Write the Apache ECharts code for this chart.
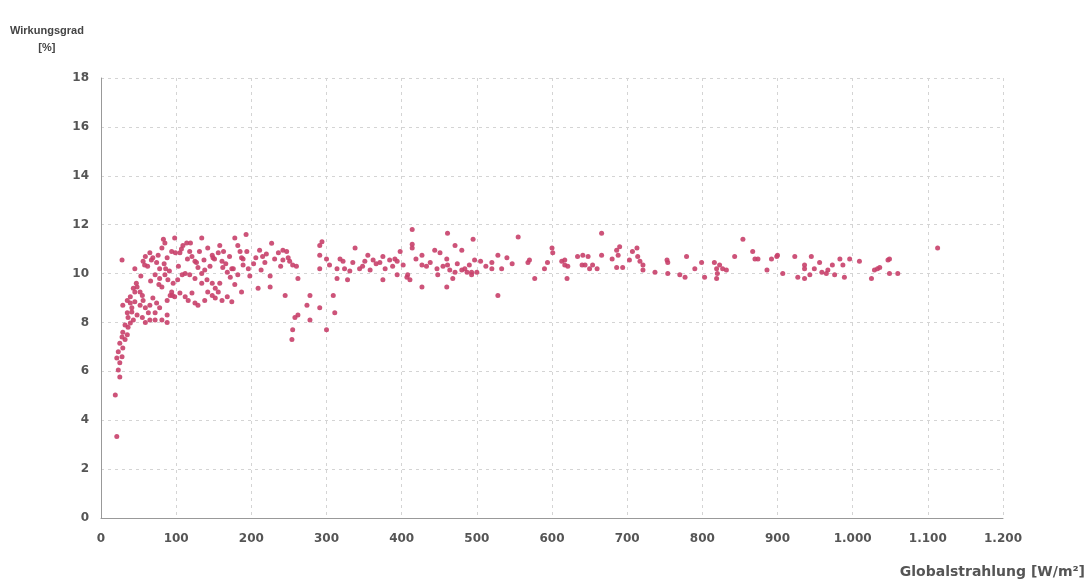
<!DOCTYPE html>
<html>
<head>
<meta charset="utf-8">
<script src="https://cdn.jsdelivr.net/npm/echarts@6/dist/echarts.min.js"></script>
<style>html,body{margin:0;padding:0;background:#fff;}#c{width:1091px;height:586px;}</style>
</head>
<body>
<div id="c"></div>
<script>
var xTicks = [0,100,200,300,400,500,600,700,800,900,1000,1100,1200];
var yTicks = [0,2,4,6,8,10,12,14,16,18];
var xTitle = 'Globalstrahlung [W/m²]';
var yTitle = 'Wirkungsgrad\n[%]';

// Globalstrahlung [W/m²]
var irradiance = [
21,19,25,23,25,21,28,23,29,25,32,28,35,29,36,32,39,36,43,35,41,48,55,59,65,72,81,88,88,29,35,39,45,43,48,52,45,52,56,59,65,69,74,78,41,63,72,39,55,
28,45,56,59,65,69,74,78,81,85,83,88,94,98,105,109,114,118,121,125,134,
72,78,85,89,96,102,108,112,118,125,94,98,105,112,116,121,125,81,88,92,
129,134,138,142,148,149,156,158,161,162,168,172,174,134,141,148,152,156,158,
129,138,142,148,152,161,168,174,178,182,185,187,189,178,187,182,
227,194,189,196,198,209,225,225,215,220,211,242,247,242,251,255,260,262,245,278,274,291,262,258,278,255,254,300,311,309,294,291,291,291,300,314,314,322,324,328,338,344,348,355,362,371,378,375,375,391,394,398,394,407,
414,414,414,427,427,408,411,427,444,451,461,447,448,460,461,464,471,471,480,460,468,480,487,493,500,495,497,493,520,520,528,533,528,555,570,568,577,590,594,600,601,613,617,621,617,620,634,640,
666,641,648,644,654,660,650,666,680,686,688,690,686,694,703,707,713,714,717,721,721,737,753,754,754,770,777,779,790,799,803,816,819,820,819,823,827,832,843,854,867,870,874,886,892,899,
900,907,923,927,936,943,936,936,945,949,956,959,965,967,973,976,983,987,989,996,1009,1025,1029,1033,1036,1047,1049,1049,1060,1113,
62,67,76,84,91,99,103,107,115,119,127,131,137,145,151,163,166,171,176,193,203,206,213,218,231,236,239,249,
304,318,331,335,351,358,366,384,388,402,419,433,438,455,474,484,490,505,512,540,547,
47,53,58,66,77,86,95
];
// Wirkungsgrad [%]
var efficiency = [
3.33,5.03,5.77,6.05,6.35,6.55,6.6,6.8,6.95,7.15,7.3,7.4,7.5,7.6,7.8,7.9,7.98,8.2,8.1,8.4,8.43,8.3,8.2,8.0,8.1,8.1,8.1,8.0,8.3,8.7,8.9,9.05,9.25,9.4,9.45,9.25,8.85,8.7,8.9,8.6,8.7,9.0,8.8,8.6,8.6,8.4,8.4,8.8,9.1,
10.55,10.2,10.5,10.7,10.85,10.65,10.45,10.2,11.05,11.25,11.4,10.65,10.9,11.45,10.85,11.15,11.25,10.9,10.7,10.5,11.45,
9.95,9.8,9.95,9.75,9.6,9.75,9.95,10.0,9.95,9.8,9.25,9.05,9.2,9.05,8.9,9.2,8.8,9.45,8.9,9.1,
10.25,10.0,10.15,11.05,10.75,10.65,10.85,11.15,10.5,10.25,10.05,9.85,10.2,9.6,9.75,9.6,9.4,9.25,9.6,
8.7,8.9,9.25,9.1,9.0,8.9,9.05,8.85,11.45,11.15,10.9,10.65,10.35,9.55,9.25,9.95,
11.24,10.9,10.6,10.2,9.9,9.4,9.45,9.9,10.7,10.8,10.95,10.95,10.9,10.55,10.5,10.35,10.3,9.8,9.1,9.1,8.7,8.6,8.3,8.2,8.1,7.7,7.3,7.7,8.4,9.1,11.3,11.15,10.75,10.2,10.6,10.2,9.8,10.5,10.2,9.75,11.05,10.2,10.3,10.75,10.55,10.45,10.2,10.7,9.75,10.6,10.5,10.9,9.95,9.85,
11.8,11.2,11.05,10.75,10.35,9.95,9.75,9.45,10.95,10.85,11.65,10.2,9.95,10.6,10.35,10.15,10.05,11.15,10.95,9.45,9.8,10.15,10.05,10.05,10.05,11.4,10.55,9.95,10.45,10.2,10.75,10.2,9.1,11.5,10.55,10.45,9.8,10.2,10.45,11.05,10.85,10.5,10.35,10.3,10.55,9.8,10.7,10.35,
11.65,10.75,10.7,10.35,10.35,10.2,10.2,10.75,10.6,10.95,10.75,11.1,10.25,10.25,10.55,10.9,11.05,10.7,10.5,10.35,10.15,10.05,10.55,10.45,10.0,9.95,9.85,10.7,10.2,10.45,9.85,10.45,10.2,10.0,9.8,10.35,10.2,10.15,10.7,11.4,10.9,10.6,10.6,10.15,10.6,10.7,
10.75,10.0,10.7,9.85,9.8,9.95,10.35,10.2,10.7,10.2,10.45,10.05,10.0,10.15,10.35,9.95,10.6,10.35,9.85,10.6,10.5,9.8,10.15,10.2,10.25,10.55,10.6,10.0,10.0,11.05,
10.3,10.55,10.75,10.4,10.1,10.85,10.3,11.0,10.6,11.25,10.45,10.9,10.55,10.3,10.6,10.9,10.4,10.7,10.2,11.6,10.4,10.65,10.15,10.45,10.6,10.85,10.3,10.65,
10.35,10.6,10.1,10.45,10.5,10.15,10.4,10.55,10.3,10.35,10.6,10.3,10.45,10.3,10.4,10.2,10.35,10.5,10.3,10.65,10.4,
9.6,9.9,10.35,9.7,9.55,10.2,9.1
];

var pts = irradiance.map(function(v,i){ return [v, efficiency[i]]; });
var tickFont = 'DejaVu Sans, Verdana, sans-serif';
var titleFont = 'Liberation Sans, Arial, sans-serif';
var chart = echarts.init(document.getElementById('c'));
chart.setOption({
  backgroundColor:'#ffffff',
  animation:false,
  grid:{left:101,right:88,top:78,bottom:68},
  xAxis:{
    type:'value',min:xTicks[0],max:xTicks[xTicks.length-1],interval:100,
    axisLine:{show:true,lineStyle:{color:'#999',width:1}},
    axisTick:{show:false},
    axisLabel:{margin:15,color:'#555',fontFamily:tickFont,fontWeight:'bold',fontSize:12,
      formatter:function(v){ return v>=1000 ? Math.floor(v/1000)+'.'+String(v%1000).padStart(3,'0') : String(v); }},
    splitLine:{show:true,lineStyle:{color:'#d4d4d4',type:[3,4],width:1}}
  },
  yAxis:{
    type:'value',min:yTicks[0],max:yTicks[yTicks.length-1],interval:2,
    axisLine:{show:true,lineStyle:{color:'#999',width:1}},
    axisTick:{show:false},
    axisLabel:{margin:12,color:'#555',fontFamily:tickFont,fontWeight:'bold',fontSize:12},
    splitLine:{show:true,lineStyle:{color:'#d4d4d4',type:[3,4],width:1}}
  },
  graphic:[
    {type:'text',left:10,top:22,style:{text:yTitle,fill:'#444',font:'bold 11px '+titleFont,textAlign:'center',lineHeight:17,x:37},z:10},
    {type:'text',right:6,top:565,style:{text:xTitle,fill:'#555',font:'bold 14px '+tickFont},z:10}
  ],
  series:[{
    type:'scatter',data:pts,symbol:'circle',symbolSize:5,
    itemStyle:{color:'#c8406a',opacity:0.9}
  }]
});
</script>
</body>
</html>
